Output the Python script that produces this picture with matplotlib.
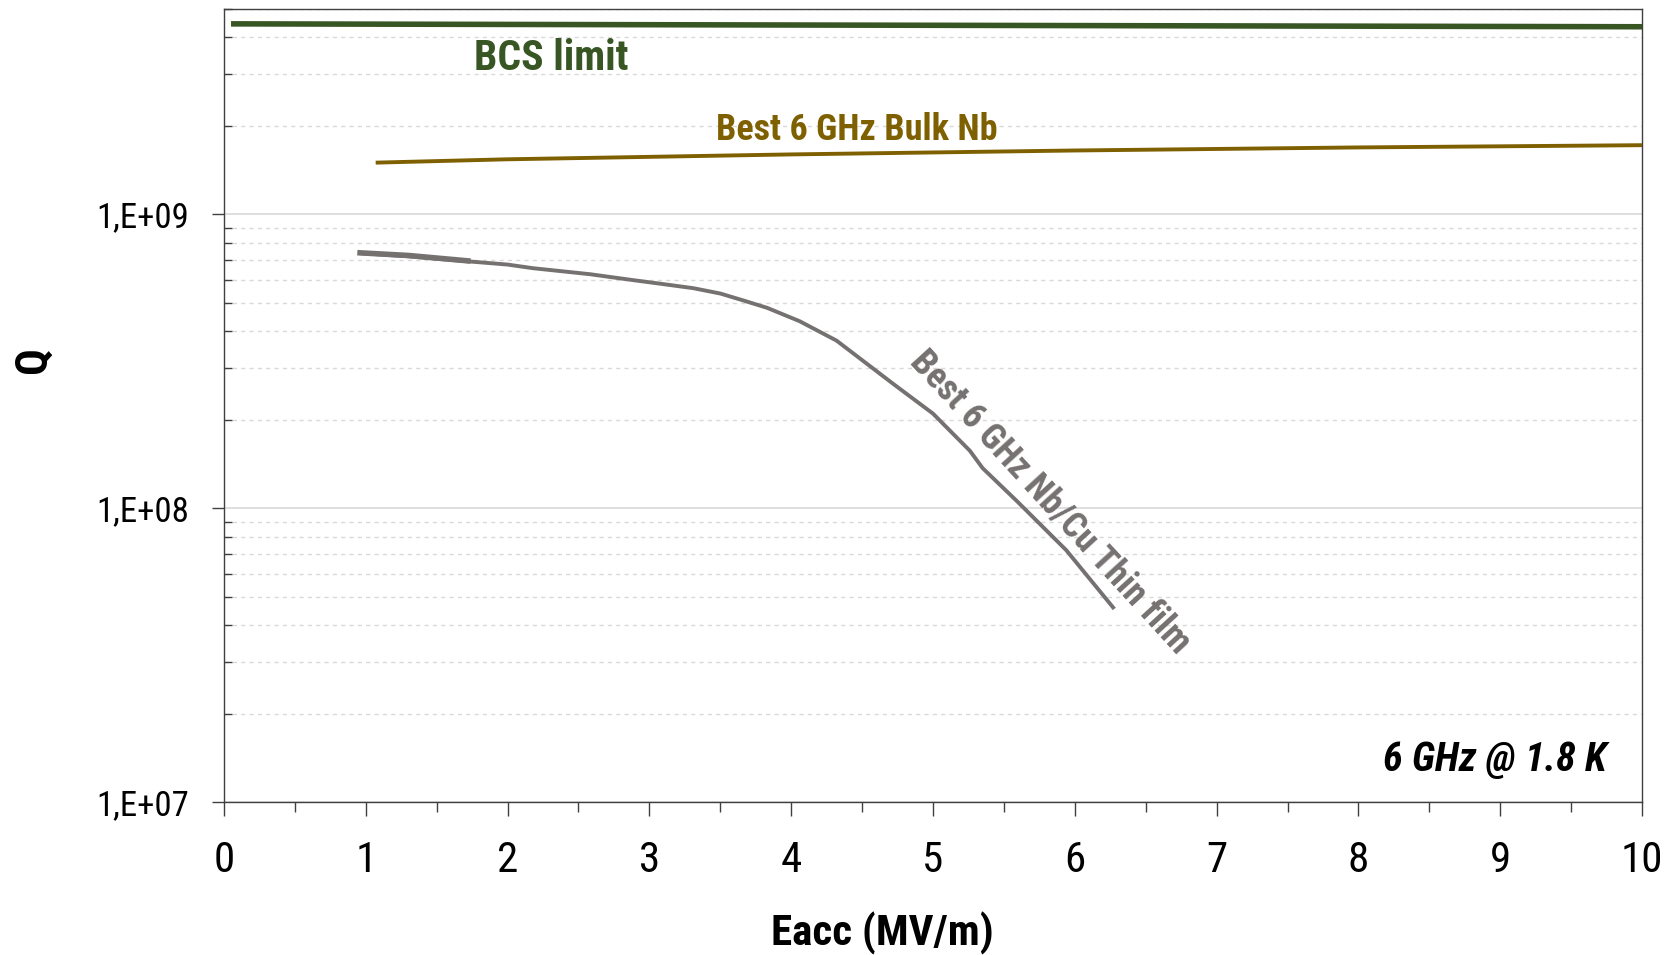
import matplotlib
matplotlib.use("Agg")
import matplotlib.pyplot as plt
from matplotlib import font_manager
from matplotlib.ticker import FixedLocator, FuncFormatter, MultipleLocator, LogLocator, NullFormatter
import numpy as np

# --- data -------------------------------------------------------------
bcs_eacc = [0.05, 10.0]
bcs_q = [4.45e9, 4.35e9]

bulk_eacc = [1.07, 2.0, 4.0, 6.0, 8.0, 10.0]
bulk_q = [1.50e9, 1.54e9, 1.60e9, 1.65e9, 1.69e9, 1.72e9]

film_eacc = [0.96, 1.3, 1.71, 2.0, 2.18, 2.58, 2.88, 3.10, 3.31, 3.50, 3.66, 3.83,
             4.06, 4.32, 4.72, 5.00, 5.26, 5.35, 5.59, 5.94, 6.27]
film_q = [7.38e8, 7.2e8, 6.93e8, 6.75e8, 6.56e8, 6.26e8, 5.98e8, 5.79e8, 5.61e8,
          5.38e8, 5.10e8, 4.81e8, 4.33e8, 3.72e8, 2.65e8, 2.10e8, 1.57e8, 1.37e8,
          1.06e8, 7.2e7, 4.6e7]

film_low_eacc = [0.96, 1.3, 1.72]
film_low_q = [7.4e8, 7.25e8, 6.95e8]

x_ticks = [0, 1, 2, 3, 4, 5, 6, 7, 8, 9, 10]
y_ticks = [1e7, 1e8, 1e9]

# --- fonts ------------------------------------------------------------
available = {f.name for f in font_manager.fontManager.ttflist}
narrow = None
for cand in ["Roboto Condensed", "Liberation Sans Narrow", "Open Sans Condensed"]:
    if cand in available:
        narrow = cand
        break
if narrow is None:
    narrow = "DejaVu Sans"

C_BCS = "#375623"
C_BULK = "#7f6000"
C_FILM = "#767171"

fig = plt.figure(figsize=(16.65, 9.55), dpi=100)
ax = fig.add_axes([0.1345, 0.160, 0.8517, 0.8306])

ax.plot(bcs_eacc, bcs_q, color=C_BCS, lw=4.0, solid_capstyle="butt", zorder=3)
ax.plot(bulk_eacc, bulk_q, color=C_BULK, lw=2.8, solid_capstyle="butt", zorder=3)
ax.plot(film_eacc, film_q, color=C_FILM, lw=2.8, zorder=3)
ax.plot(film_low_eacc, film_low_q, color=C_FILM, lw=4.0, zorder=3)

ax.set_yscale("log")
ax.set_xlim(0, 10)
ax.set_ylim(1e7, 5e9)

ax.xaxis.set_major_locator(FixedLocator(x_ticks))
ax.xaxis.set_minor_locator(MultipleLocator(0.5))
ax.yaxis.set_major_locator(FixedLocator(y_ticks))
ax.yaxis.set_minor_locator(LogLocator(base=10, subs=np.arange(2, 10)))
ax.yaxis.set_minor_formatter(NullFormatter())
ax.yaxis.set_major_formatter(FuncFormatter(lambda v, p: "1,E+%02d" % int(round(np.log10(v)))))

ax.grid(True, which="major", axis="y", color="#d9d9d9", lw=1.2, ls="-")
ax.grid(True, which="minor", axis="y", color="#d9d9d9", lw=1.0, ls=(0, (3, 3)))
ax.set_axisbelow(True)

for s in ax.spines.values():
    s.set_color("#404040")
    s.set_linewidth(1.0)

ax.tick_params(axis="x", which="major", direction="out", length=10, width=1.0,
               color="#404040", pad=17, labelsize=31)
ax.tick_params(axis="x", which="minor", direction="out", length=7, width=1.0, color="#404040")
ax.tick_params(axis="y", which="major", direction="out", length=9, width=1.0,
               color="#404040", pad=16, labelsize=25)
ax.tick_params(axis="y", which="minor", direction="in", length=6, width=1.0, color="#404040")
for lab in ax.get_xticklabels() + ax.get_yticklabels():
    lab.set_fontfamily(narrow)

ax.set_xlabel("Eacc (MV/m)", fontfamily=narrow, fontweight="bold", fontsize=31)
ax.set_ylabel("Q", fontfamily=narrow, fontweight="bold", fontsize=32)
ax.xaxis.set_label_coords(0.464, -0.138)
ax.yaxis.set_label_coords(-0.1195, 0.558)

ax.text(2.31, 3.4e9, "BCS limit", color=C_BCS, fontfamily=narrow, fontweight="bold",
        fontsize=30, ha="center", va="center")
ax.text(4.46, 1.93e9, "Best 6 GHz Bulk Nb", color=C_BULK, fontfamily=narrow, fontweight="bold",
        fontsize=26, ha="center", va="center")
ax.text(5.83, 1.05e8, "Best 6 GHz Nb/Cu Thin film", color=C_FILM, fontfamily=narrow,
        fontweight="bold", fontsize=26, ha="center", va="center", rotation=-47.5,
        rotation_mode="anchor")
ax.text(0.975, 0.0535, "6 GHz @ 1.8 K", transform=ax.transAxes, color="black",
        fontfamily=narrow, fontweight="bold", fontstyle="italic", fontsize=29,
        ha="right", va="center")

fig.savefig("out.png", dpi=100)
